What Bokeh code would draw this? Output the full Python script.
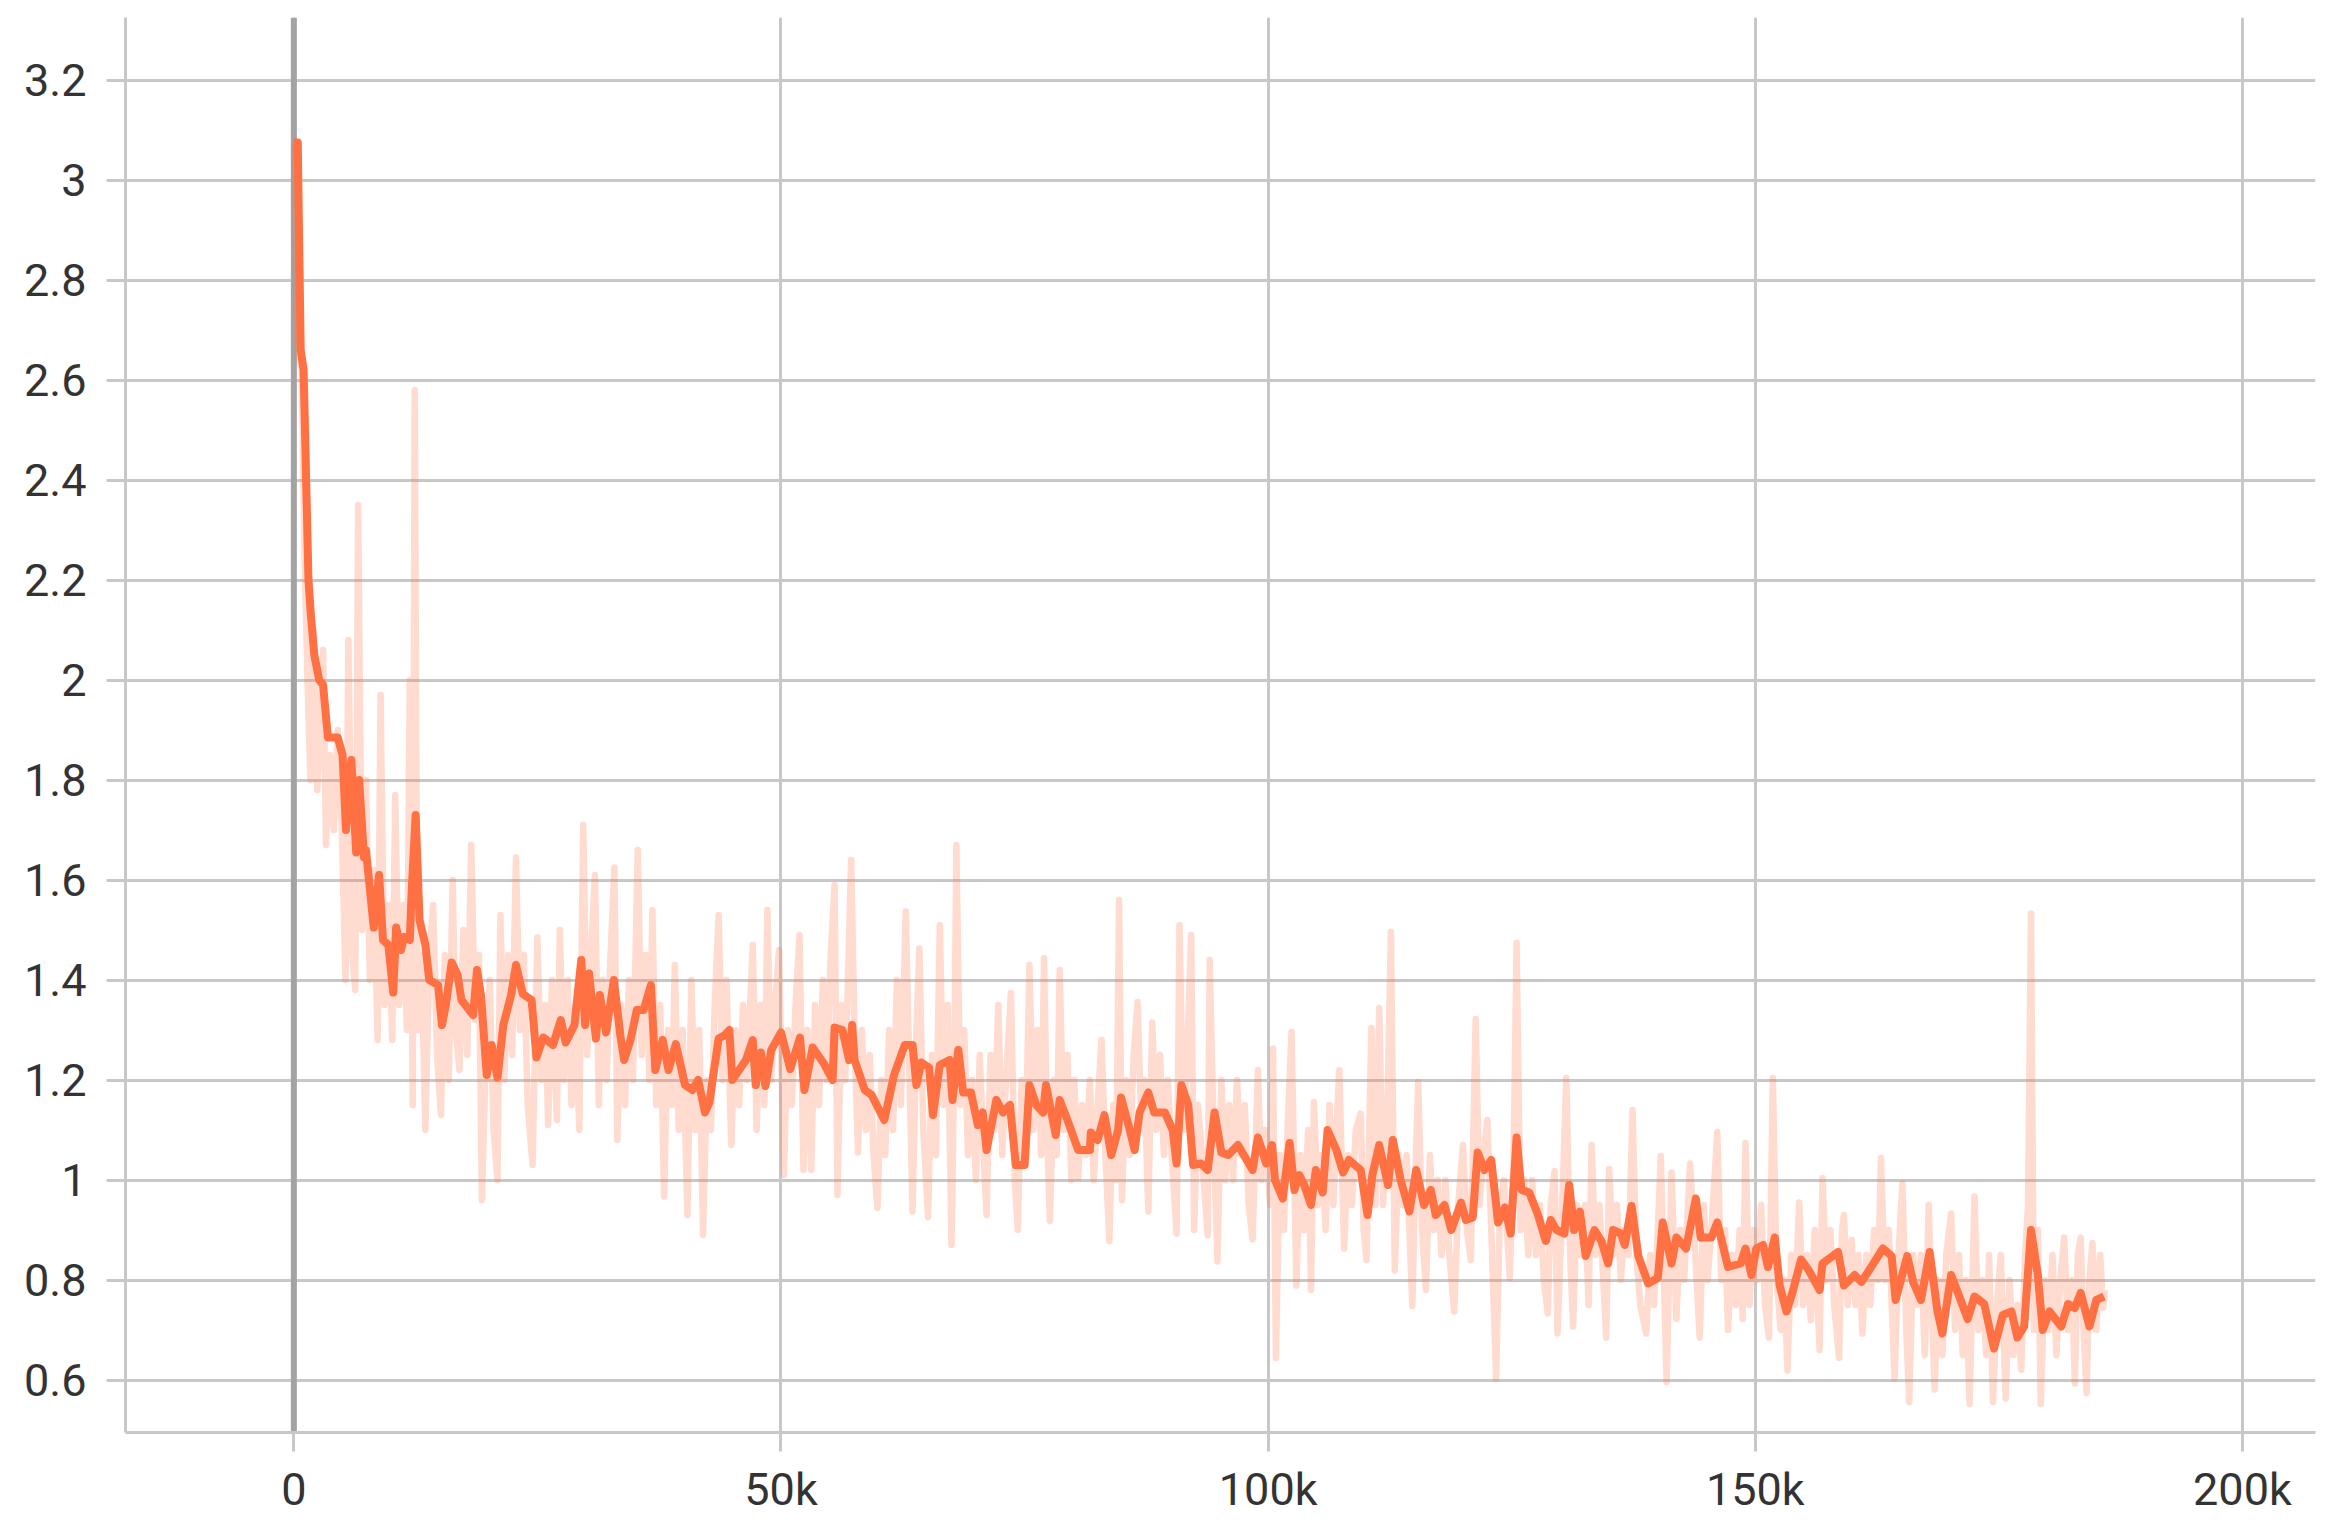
from bokeh.plotting import figure
from bokeh.models import Range1d, FixedTicker, Span
from bokeh.embed import file_html
from bokeh.resources import INLINE

# ---- data (training step in thousands, loss) ----
smooth_step_k = [
    0.0, 0.4, 0.7, 1.0, 1.5, 1.75, 2.1, 2.6, 3.0, 3.5, 4.5, 5.0, 5.35, 5.9, 6.4, 6.7, 7.2, 7.4,
    8.2, 8.75, 9.15, 9.7, 10.2, 10.5, 11.0, 11.3, 11.9, 12.1, 12.5, 12.9, 13.5, 13.9, 14.8, 15.2,
    15.6, 16.2, 16.8, 17.2, 18.4, 18.8, 19.2, 19.8, 20.3, 20.9, 21.5, 22.3, 22.8, 23.5, 24.4, 24.9,
    25.6, 26.6, 27.4, 27.9, 28.8, 29.5, 29.9, 30.3, 31.0, 31.4, 32.05, 32.85, 33.5, 33.9, 34.55,
    35.2, 35.9, 36.65, 37.1, 37.85, 38.45, 39.2, 40.15, 40.9, 41.5, 42.2, 42.65, 43.6, 44.25, 44.7,
    45.0, 46.4, 47.1, 47.4, 47.95, 48.4, 49.0, 50.0, 50.95, 51.95, 52.4, 53.25, 54.4, 55.3, 55.5,
    56.3, 57.0, 57.3, 57.55, 58.6, 59.3, 60.6, 61.6, 62.7, 63.5, 63.9, 64.4, 65.2, 65.6, 66.3, 67.3,
    67.6, 68.2, 68.7, 69.5, 70.2, 70.7, 71.1, 72.1, 72.8, 73.5, 74.1, 75.0, 75.5, 76.2, 76.9, 77.2,
    77.9, 78.2, 78.6, 79.4, 80.5, 81.7, 81.8, 82.5, 83.2, 83.9, 84.6, 84.9, 85.6, 86.3, 86.8, 87.7,
    88.3, 89.4, 90.2, 90.6, 91.1, 91.8, 92.3, 93.1, 93.8, 94.5, 95.2, 95.9, 96.9, 98.4, 98.95, 99.8,
    100.4, 100.7, 101.5, 102.2, 102.7, 103.2, 103.7, 104.4, 104.9, 105.6, 106.1, 107.0, 107.7,
    108.3, 109.5, 110.2, 110.7, 111.4, 112.3, 112.8, 113.6, 114.5, 115.2, 116.0, 116.7, 117.2,
    118.1, 118.8, 119.8, 120.3, 121.0, 121.5, 122.2, 122.9, 123.6, 124.3, 124.9, 125.5, 126.0,
    126.8, 127.7, 128.5, 129.0, 129.6, 130.4, 130.9, 131.4, 132.0, 132.6, 133.5, 134.2, 134.9,
    135.4, 136.2, 136.6, 137.3, 138.0, 139.0, 140.0, 140.5, 141.4, 141.9, 142.9, 143.9, 144.4,
    145.5, 146.1, 147.2, 148.5, 149.0, 149.6, 150.1, 150.8, 151.3, 152.0, 152.5, 153.2, 153.8,
    154.7, 155.5, 156.6, 156.9, 158.5, 159.1, 160.2, 160.9, 161.9, 163.1, 164.0, 164.4, 165.6,
    166.2, 167.0, 167.9, 168.7, 169.2, 170.1, 170.8, 171.8, 172.5, 173.5, 174.5, 175.4, 176.3,
    176.9, 177.6, 178.3, 179.0, 179.5, 180.2, 181.4, 182.1, 182.8, 183.4, 184.3, 185.0, 185.8,
]
smooth_loss = [
    3.075, 3.075, 2.66, 2.62, 2.2, 2.13, 2.05, 2.0, 1.99, 1.885, 1.885, 1.85, 1.70, 1.84, 1.655, 1.80, 1.645, 1.66,
    1.505, 1.61, 1.48, 1.47, 1.375, 1.505, 1.46, 1.486, 1.48, 1.58, 1.73, 1.52, 1.47, 1.40, 1.39, 1.31,
    1.35, 1.435, 1.41, 1.36, 1.33, 1.42, 1.37, 1.21, 1.27, 1.205, 1.31, 1.37, 1.43, 1.372, 1.36, 1.245,
    1.285, 1.27, 1.32, 1.275, 1.31, 1.44, 1.31, 1.413, 1.283, 1.37, 1.295, 1.40, 1.29, 1.24, 1.28,
    1.34, 1.34, 1.39, 1.22, 1.28, 1.22, 1.272, 1.19, 1.18, 1.20, 1.135, 1.155, 1.283, 1.29, 1.30,
    1.20, 1.24, 1.28, 1.19, 1.255, 1.188, 1.26, 1.295, 1.222, 1.285, 1.18, 1.265, 1.233, 1.20, 1.305,
    1.30, 1.24, 1.31, 1.24, 1.18, 1.17, 1.12, 1.21, 1.27, 1.27, 1.19, 1.235, 1.225, 1.13, 1.23, 1.24,
    1.16, 1.26, 1.175, 1.175, 1.11, 1.135, 1.06, 1.16, 1.135, 1.15, 1.03, 1.03, 1.19, 1.15, 1.135, 1.19,
    1.12, 1.09, 1.16, 1.12, 1.06, 1.06, 1.095, 1.08, 1.13, 1.05, 1.10, 1.165, 1.115, 1.06, 1.135, 1.175,
    1.135, 1.135, 1.10, 1.033, 1.19, 1.15, 1.03, 1.033, 1.02, 1.135, 1.055, 1.05, 1.07, 1.02, 1.085, 1.033,
    1.07, 1.00, 0.963, 1.074, 0.98, 1.01, 0.99, 0.95, 1.02, 0.975, 1.10, 1.06, 1.015,
    1.04, 1.02, 0.93, 1.01, 1.07, 0.99, 1.08, 1.00, 0.937, 1.02, 0.95, 0.98, 0.93,
    0.95, 0.90, 0.955, 0.92, 0.925, 1.055, 1.02, 1.04, 0.915, 0.945, 0.893, 1.085, 0.98,
    0.975, 0.93, 0.878, 0.92, 0.90, 0.893, 0.99, 0.90, 0.937, 0.848, 0.90, 0.878, 0.833,
    0.90, 0.893, 0.87, 0.948, 0.848, 0.793, 0.804, 0.915, 0.833, 0.885, 0.863, 0.963, 0.885,
    0.885, 0.915, 0.826, 0.833, 0.863, 0.81, 0.863, 0.87, 0.826, 0.885, 0.789, 0.737, 0.774,
    0.841, 0.819, 0.78, 0.833, 0.856, 0.789, 0.81, 0.796, 0.826, 0.863, 0.848, 0.76, 0.848,
    0.796, 0.76, 0.856, 0.737, 0.693, 0.81, 0.774, 0.722, 0.767, 0.752, 0.663, 0.73, 0.737,
    0.685, 0.707, 0.90, 0.81, 0.70, 0.737, 0.707, 0.752, 0.744, 0.774, 0.707, 0.76, 0.767,
]

raw_step_k = [
    0.0, 0.4, 0.8, 1.1, 1.4, 1.7, 2.0, 2.4, 2.8, 3.0, 3.3, 3.7, 4.1, 4.5, 4.9, 5.3, 5.6, 6.0, 6.3, 6.6,
    7.0, 7.4, 7.8, 8.2, 8.6, 8.9, 9.3, 9.7, 10.1, 10.4, 10.8, 11.2, 11.6, 11.9, 12.2, 12.4, 12.7, 13.1,
    13.5, 13.9, 14.3, 14.7, 15.1,
    15.5, 15.9, 16.3, 16.6, 17.0, 17.4, 17.8, 18.2, 18.6, 19.0, 19.3, 19.7, 20.1, 20.5, 20.9, 21.2,
    21.6, 22.0, 22.4, 22.8, 23.2, 23.6, 24.0, 24.5, 25.0, 25.4, 25.8, 26.1, 26.5, 27.0, 27.3, 27.7,
    28.1, 28.5, 28.9, 29.3, 29.7, 30.1, 30.5, 30.9, 31.3, 31.7, 32.1, 32.5, 32.9, 33.2, 33.6, 34.0,
    34.4, 34.8, 35.3, 35.7, 36.1, 36.5, 36.8, 37.2, 37.6, 38.0, 38.4, 38.8, 39.1, 39.5, 39.9, 40.4,
    40.8, 41.2, 41.6, 42.0, 42.4, 42.8, 43.2, 43.6, 44.0, 44.4, 44.9, 45.3, 45.7, 46.1, 46.5, 47.1,
    47.5, 47.9, 48.3, 48.6, 49.0, 49.4, 49.8, 50.3, 50.7, 51.1, 51.5, 51.9, 52.3, 52.7, 53.1, 53.5,
    53.9, 54.3, 54.7, 55.1, 55.5, 55.8, 56.2, 56.6, 57.2, 57.6, 57.9,
    58.3, 58.7, 59.1, 59.5, 59.9, 60.3, 60.7, 61.1, 61.5, 61.9, 62.3, 62.8, 63.2, 63.5, 63.9, 64.2,
    64.6, 65.1, 65.5, 65.9, 66.3, 66.7, 67.1, 67.5, 67.8, 68.0, 68.4, 68.8, 69.2, 69.6, 70.0, 70.4,
    70.8, 71.1, 71.5, 71.9, 72.3, 72.7, 73.1, 73.6, 74.0, 74.3, 74.7, 75.1, 75.5, 75.9, 76.3, 76.7,
    77.0, 77.3, 77.6, 78.0, 78.3, 78.6, 79.0, 79.4, 79.8, 80.1, 80.5, 80.9, 81.3, 81.7, 82.1, 82.5,
    82.9, 83.3, 83.7, 84.1, 84.4, 84.7, 85.0, 85.4, 85.8, 86.2, 86.6, 87.0, 87.3, 87.7, 88.1, 88.5,
    88.9, 89.3, 89.7, 90.1, 90.6, 90.9, 91.3, 91.7, 92.1, 92.4, 92.8, 93.2, 93.8, 94.0, 94.4, 94.8,
    95.2, 95.6, 96.0, 96.4, 96.8, 97.2, 97.6, 98.0, 98.4, 98.95, 99.3, 99.7, 100.2, 100.5, 100.8,
    101.2, 101.6, 102.0, 102.4, 102.9, 103.3, 103.7, 104.1, 104.4, 104.7, 105.1, 105.5, 105.9, 106.3,
    106.7, 107.0, 107.3, 107.8, 108.2, 108.6, 109.0, 109.5, 109.8, 110.1, 110.6, 111.0, 111.4, 111.8,
    112.2, 112.6, 113.0, 113.4, 113.8, 114.2, 114.8, 115.1, 115.4, 115.8, 116.2, 116.6, 117.0, 117.4,
    117.8, 118.2, 118.6, 119.1, 119.5, 120.0, 120.4, 120.8, 121.3, 121.7, 122.1, 122.5, 122.9, 123.4,
    123.8, 124.2, 124.8, 125.2, 125.5, 125.9, 126.3, 126.7, 127.1, 127.5, 127.9, 128.3, 128.7, 129.0,
    129.4, 129.7, 130.1, 130.6, 131.0, 131.3, 131.7, 132.1, 132.5, 132.9, 133.2, 133.6, 134.0, 134.4,
    134.7, 135.0, 135.4, 135.8, 136.2, 136.6, 137.0, 137.4, 137.8, 138.2, 138.8, 139.2, 139.6, 140.0,
    140.3, 140.9, 141.4, 141.9, 142.3, 142.7, 143.3, 143.7, 144.3,
    144.7, 145.1, 145.5, 146.1, 146.5, 146.9, 147.2, 147.6, 148.0, 148.4, 148.7, 149.0, 149.4, 149.8,
    150.2, 150.6, 151.0, 151.4, 151.8, 152.2, 152.6, 153.0, 153.3, 153.7, 154.1, 154.5, 154.9, 155.3,
    155.7, 156.1, 156.6, 156.9, 157.3, 157.7, 158.1, 158.6, 158.9, 159.1, 159.5, 159.9, 160.3, 160.6,
    161.0, 161.4, 161.8, 162.2, 162.6, 162.9, 163.3, 163.7, 164.3, 164.7, 165.1, 165.5, 165.8, 166.2,
    166.6, 167.0, 167.4, 167.8, 168.4, 168.8, 169.2, 169.6, 170.1, 170.5, 170.9, 171.3, 171.6, 172.0,
    172.5, 172.9, 173.3, 173.7, 174.0, 174.4, 174.8, 175.2, 175.7, 176.1, 176.5, 176.9, 177.3, 177.7,
    178.0, 178.3, 178.6, 179.0, 179.3, 179.7, 180.1, 180.5, 180.9, 181.3, 181.7, 182.1, 182.5, 182.8,
    183.1, 183.4, 183.7, 184.0, 184.3, 184.6, 185.0, 185.4, 185.7, 185.9,
]
raw_loss = [
    3.07, 2.65, 2.62, 2.25, 2.0, 1.80, 2.10, 1.78, 1.95, 2.06, 1.67, 1.85, 1.70, 1.90, 1.72, 1.40, 2.08, 1.45, 1.38, 2.35,
    1.50, 1.80, 1.40, 1.62, 1.28, 1.97, 1.35, 1.55, 1.28, 1.77, 1.35, 1.55, 1.30, 2.00, 1.15, 2.58, 1.30, 1.45,
    1.10, 1.45, 1.55, 1.25, 1.13,
    1.45, 1.20, 1.60, 1.30, 1.22, 1.50, 1.25, 1.67, 1.32, 1.45, 0.96, 1.25, 1.40, 1.10, 1.00, 1.53,
    1.20, 1.45, 1.25, 1.645, 1.30, 1.45, 1.15, 1.03, 1.485, 1.20, 1.35, 1.11, 1.40, 1.12, 1.50, 1.20,
    1.40, 1.15, 1.35, 1.10, 1.71, 1.25, 1.45, 1.61, 1.15, 1.40, 1.20, 1.45, 1.625, 1.08, 1.35, 1.15,
    1.40, 1.20, 1.66, 1.25, 1.45, 1.20, 1.54, 1.15, 1.35, 0.967, 1.30, 1.15, 1.43, 1.10, 1.30, 0.93,
    1.40, 1.10, 1.30, 0.89, 1.20, 1.10, 1.35, 1.53, 1.20, 1.40, 1.07, 1.30, 1.15, 1.35, 1.20, 1.47,
    1.10, 1.35, 1.15, 1.54, 1.20, 1.35, 1.46, 1.01, 1.30, 1.15, 1.35, 1.49, 1.02, 1.30, 1.02, 1.35,
    1.15, 1.40, 1.20, 1.45, 1.59, 0.97, 1.35, 1.20, 1.64, 1.25, 1.055,
    1.30, 1.10, 1.25, 1.05, 0.944, 1.20, 1.05, 1.30, 1.10, 1.40, 1.15, 1.537, 1.20, 0.937, 1.30, 1.463,
    1.10, 0.926, 1.25, 1.05, 1.51, 1.15, 1.35, 0.87, 1.25, 1.67, 1.15, 1.30, 1.05, 1.20, 1.00, 1.25,
    1.05, 0.93, 1.25, 1.10, 1.35, 1.05, 1.20, 1.374, 1.00, 0.90, 1.20, 1.05, 1.43, 1.10, 1.30, 1.05,
    1.444, 1.10, 0.918, 1.20, 1.05, 1.42, 1.10, 1.25, 1.00, 1.20, 1.004, 1.15, 1.05, 1.20, 1.00, 1.15,
    1.28, 1.05, 0.878, 1.15, 1.00, 1.56, 0.96, 1.20, 1.05, 1.25, 1.356, 1.10, 1.20, 0.937, 1.315, 1.10,
    1.25, 1.05, 1.20, 1.05, 0.893, 1.51, 1.10, 1.25, 1.49, 0.90, 1.15, 1.05, 0.889, 1.44, 1.10, 0.837,
    1.20, 1.00, 1.15, 1.00, 1.20, 1.05, 1.15, 0.95, 0.881, 1.22, 1.00, 1.10, 0.95, 1.263, 0.644,
    1.05, 0.90, 1.10, 1.296, 0.789, 1.05, 0.90, 1.10, 0.78, 1.156, 0.95, 1.05, 0.90, 1.15,
    0.95, 1.10, 1.22, 0.863, 1.05, 0.95, 1.10, 1.133, 0.90, 0.84, 1.304, 0.95, 1.344, 0.95,
    1.10, 1.496, 0.819, 1.05, 0.95, 1.05, 0.748, 1.00, 1.196, 0.90, 0.78, 1.05, 0.90, 1.00,
    0.85, 1.00, 0.85, 0.737, 0.95, 1.07, 0.90, 0.84, 1.322, 0.95, 1.05, 1.12, 0.90, 0.603,
    0.95, 1.00, 0.804, 1.05, 1.474, 0.90, 1.00, 0.85, 1.00, 0.85, 0.95, 0.80, 0.733, 0.95,
    1.018, 0.693, 0.90, 1.204, 0.85, 0.707, 0.95, 0.85, 0.95, 0.75, 1.07, 0.85, 0.95, 0.80,
    0.685, 1.022, 0.85, 0.95, 0.80, 0.90, 0.85, 1.14, 0.85, 0.75, 0.693, 0.85, 0.75, 0.90,
    1.048, 0.596, 1.015, 0.722, 0.90, 0.80, 1.033, 0.90, 0.685,
    0.95, 0.80, 0.90, 1.096, 0.80, 0.90, 0.70, 0.85, 0.75, 0.90, 0.722, 1.074, 0.75, 0.90,
    0.80, 0.95, 0.75, 0.685, 1.204, 0.80, 0.70, 0.80, 0.619, 0.85, 0.75, 0.955, 0.75, 0.85,
    0.72, 0.90, 0.66, 1.004, 0.80, 0.90, 0.75, 0.644, 0.90, 0.93, 0.75, 0.88, 0.75, 0.85,
    0.693, 0.85, 0.75, 0.90, 0.80, 1.044, 0.80, 0.90, 0.603, 0.85, 0.993, 0.70, 0.556, 0.85,
    0.75, 0.85, 0.65, 0.95, 0.581, 0.80, 0.65, 0.85, 0.933, 0.70, 0.85, 0.65, 0.80, 0.552,
    0.967, 0.70, 0.80, 0.65, 0.85, 0.556, 0.75, 0.85, 0.563, 0.80, 0.65, 0.75, 0.62, 0.85,
    0.95, 1.533, 0.70, 0.90, 0.552, 0.80, 0.70, 0.85, 0.65, 0.80, 0.885, 0.70, 0.80, 0.593,
    0.85, 0.885, 0.70, 0.574, 0.80, 0.874, 0.70, 0.85, 0.744, 0.78,
]

x_ticks = [0, 50, 100, 150, 200]
x_tick_labels = ["0", "50k", "100k", "150k", "200k"]
y_ticks = [0.6, 0.8, 1.0, 1.2, 1.4, 1.6, 1.8, 2.0, 2.2, 2.4, 2.6, 2.8, 3.0, 3.2]
y_tick_labels = ["0.6", "0.8", "1", "1.2", "1.4", "1.6", "1.8", "2", "2.2", "2.4", "2.6", "2.8", "3", "3.2"]

LINE_COLOR = "#ff7043"
GRID_COLOR = "#c8c8c8"
TEXT_COLOR = "#333333"

p = figure(
    frame_width=2190, frame_height=1415,
    x_range=Range1d(-17.28, 207.5), y_range=Range1d(0.495, 3.325),
    output_backend="svg", toolbar_location=None,
    min_border_left=125, min_border_top=17, min_border_right=12, min_border_bottom=10,
)
p.outline_line_color = None
p.background_fill_color = "white"
p.border_fill_color = "white"

p.xaxis.ticker = FixedTicker(ticks=x_ticks)
p.yaxis.ticker = FixedTicker(ticks=y_ticks)
p.xaxis.major_label_overrides = dict(zip(x_ticks, x_tick_labels))
p.yaxis.major_label_overrides = dict(zip(y_ticks, y_tick_labels))

for ax in (p.xaxis[0], p.yaxis[0]):
    ax.axis_line_color = GRID_COLOR
    ax.axis_line_width = 3
    ax.major_tick_line_color = GRID_COLOR
    ax.major_tick_line_width = 3
    ax.major_tick_out = 19
    ax.major_tick_in = 0
    ax.minor_tick_line_color = None
    ax.major_label_text_font = "Roboto"
    ax.major_label_text_font_size = "45px"
    ax.major_label_text_color = TEXT_COLOR
p.xaxis.major_label_standoff = 11
p.yaxis.major_label_standoff = 20

p.grid.grid_line_color = GRID_COLOR
p.grid.grid_line_width = 3

zero_line = Span(location=0, dimension="height", line_color="#a3a3a3", line_width=6, level="underlay")
p.add_layout(zero_line)

p.line(raw_step_k, raw_loss, line_color=LINE_COLOR, line_alpha=0.25, line_width=6.5, line_join="round")
p.line(smooth_step_k, smooth_loss, line_color=LINE_COLOR, line_width=8, line_join="round")

open("out.html", "w").write(file_html(p, INLINE))
